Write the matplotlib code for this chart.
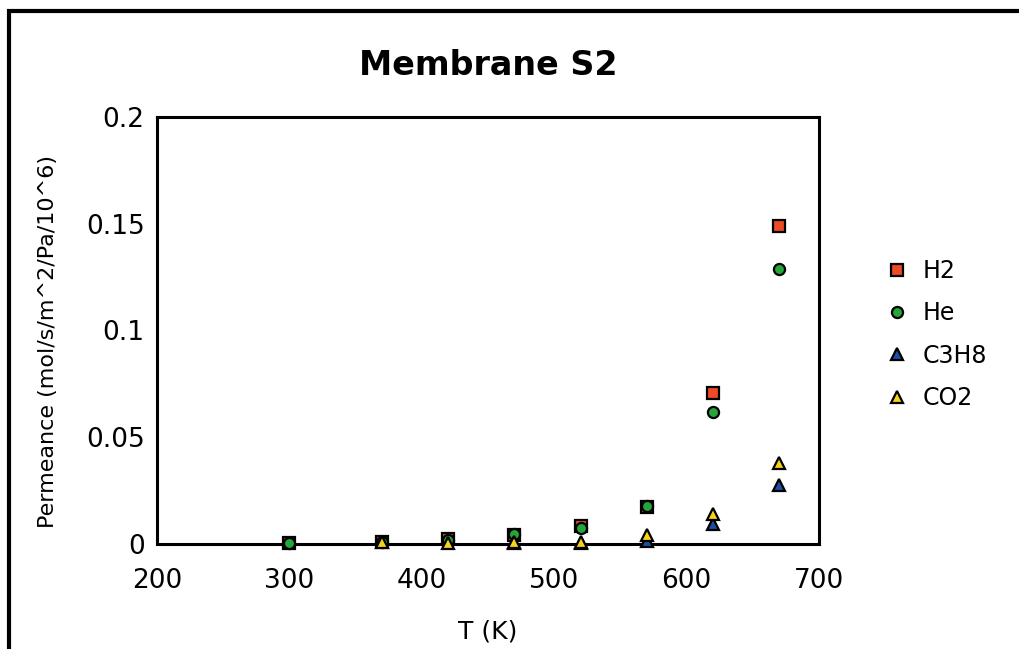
import matplotlib
matplotlib.use("Agg")
import matplotlib.pyplot as plt
from matplotlib.patches import Rectangle

# temperatures (K)
temps = [300, 370, 420, 470, 520, 570, 620, 670]

# permeance values
h2 = [0.0003, 0.001, 0.0025, 0.004, 0.0084, 0.0175, 0.0705, 0.149]
he = [0.0003, 0.0008, 0.002, 0.0045, 0.0075, 0.0178, 0.062, 0.129]
c3h8 = [None, None, None, 0.0003, 0.0004, 0.0015, 0.0093, 0.0276]
co2 = [None, 0.0008, 0.0006, 0.001, 0.0008, 0.004, 0.014, 0.038]

series = [
    ("H2", h2, "s", "#ee4a25", 9),
    ("He", he, "o", "#25a53a", 8),
    ("C3H8", c3h8, "^", "#1d4fa3", 9),
    ("CO2", co2, "^", "#f7d21a", 9),
]

plt.rcParams["font.family"] = "DejaVu Sans"

fig = plt.figure(figsize=(10.2, 6.49), dpi=100)
ax = fig.add_axes([157 / 1020, 1 - 544 / 649, 662 / 1020, 427 / 649])

for name, vals, marker, color, ms in series:
    xs = [t for t, v in zip(temps, vals) if v is not None]
    ys = [v for v in vals if v is not None]
    ax.plot(xs, ys, linestyle="none", marker=marker, markersize=ms,
            markerfacecolor=color, markeredgecolor="black",
            markeredgewidth=1.6, label=name, clip_on=False, zorder=3)

ax.set_xlim(200, 700)
ax.set_ylim(0, 0.2)
ax.set_xticks([200, 300, 400, 500, 600, 700])
ax.set_yticks([0, 0.05, 0.1, 0.15, 0.2])
ax.set_yticklabels(["0", "0.05", "0.1", "0.15", "0.2"])
ax.tick_params(length=0, labelsize=19)
ax.tick_params(axis="x", pad=17)
ax.tick_params(axis="y", pad=9)
for sp in ax.spines.values():
    sp.set_linewidth(2.2)
    sp.set_color("black")

ax.set_xlabel("T (K)", fontsize=18)
ax.xaxis.set_label_coords(0.5, -0.176)
ax.set_ylabel("Permeance (mol/s/m^2/Pa/10^6)", fontsize=16)
ax.yaxis.set_label_coords(-0.150, 0.475)
ax.set_title("Membrane S2", fontsize=24, fontweight="bold", pad=30)

leg = ax.legend(loc="upper left", bbox_to_anchor=(1.085, 0.69), frameon=False,
                fontsize=17, handlelength=1.0, handletextpad=0.6,
                labelspacing=0.78, borderaxespad=0)

# outer chart border (only left and top edges are inside the image)
fig.patches.append(Rectangle((9 / 1020, -0.2), 1.3, 1.2 - 11 / 649,
                             transform=fig.transFigure, fill=False,
                             edgecolor="black", linewidth=3))

fig.savefig("out.png", dpi=100)
